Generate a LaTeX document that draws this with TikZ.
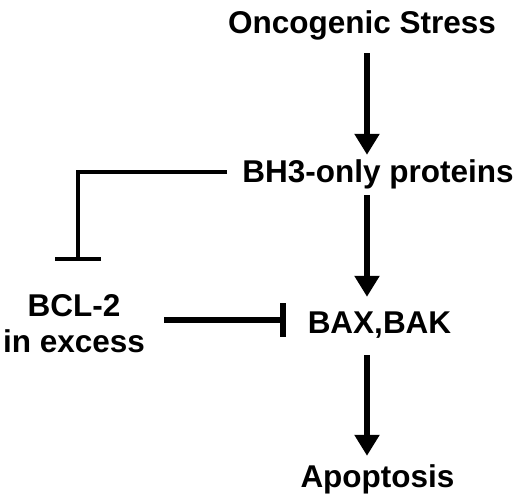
\documentclass[tikz,border=0pt]{standalone}
\usepackage{fontspec}
\setmainfont{Liberation Sans}
\usetikzlibrary{arrows.meta}

\begin{document}
\begin{tikzpicture}[x=1pt,y=-1pt,
  lab/.style={font=\bfseries\fontsize{31.5}{36}\selectfont,inner sep=0pt,text height=23pt,text depth=7pt},
  act/.style={line width=6pt,-{Triangle[width=24pt,length=21pt]}},
  inh/.style={line width=6pt,-{Bar[width=34pt]}},
  elb/.style={line width=3.5pt,-{Bar[width=46pt]}}]
\useasboundingbox (0,0) rectangle (520,499);
%\draw[thin,gray,step=20] (0,0) grid (520,499);

\node[lab,anchor=base] (os) at (362,33) {Oncogenic Stress};
\node[lab,anchor=base] (bh3) at (378,182) {BH3-only proteins};
\node[lab,anchor=base] (bax) at (379.5,333) {BAX,BAK};
\node[lab,anchor=base] (apo) at (377.5,487) {Apoptosis};
\node[font=\bfseries\fontsize{31.5}{36}\selectfont,inner sep=0pt,align=center] (bcl) at (74,324) {BCL-2\\in excess};

\coordinate (ax) at (367,0);
\draw[act,shorten <=13pt,shorten >=4pt] (ax |- os.south) -- (ax |- bh3.north);
\draw[act,shorten <=6pt,shorten >=13pt] (ax |- bh3.south) -- (ax |- bax.north);
\draw[act,shorten <=15pt,shorten >=8pt] (ax |- bax.south) -- (ax |- apo.north);

% inhibition
\draw[inh,shorten <=19pt,shorten >=22pt] ([yshift=5pt]bax.west -| bcl.east) -- ([yshift=5pt]bax.west);
\draw[elb,shorten <=15pt,shorten >=34pt] ([yshift=2pt]bh3.west) -| ([xshift=4pt]bcl.north);

\end{tikzpicture}
\end{document}
